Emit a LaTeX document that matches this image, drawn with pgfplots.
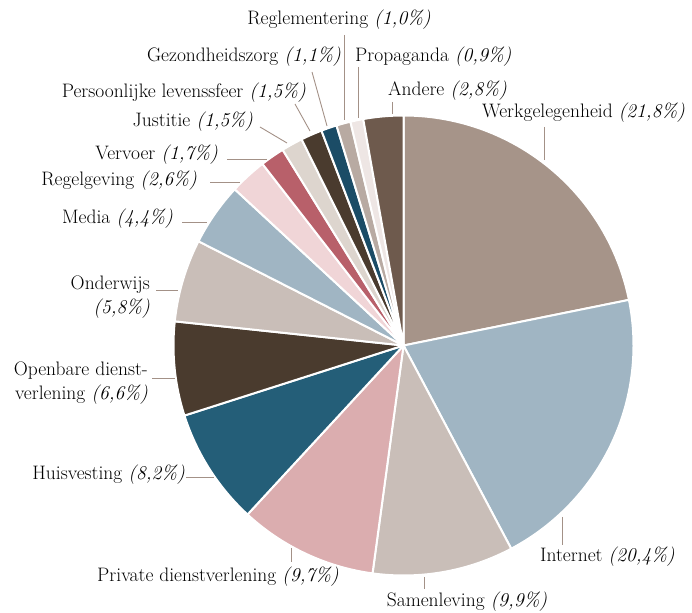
\documentclass[border=0pt]{standalone}
\usepackage{fontspec}
\usepackage{pgfplots}
\pgfplotsset{compat=1.18}
\definecolor{cWerk}{HTML}{A69489}
\definecolor{cInt}{HTML}{A0B5C3}
\definecolor{cSam}{HTML}{C9BEB8}
\definecolor{cPriv}{HTML}{DBADAF}
\definecolor{cHuis}{HTML}{245E78}
\definecolor{cOpen}{HTML}{4A3B2E}
\definecolor{cRegel}{HTML}{F0D5D7}
\definecolor{cVerv}{HTML}{B8606A}
\definecolor{cJust}{HTML}{DDD5CE}
\definecolor{cGez}{HTML}{1B4C66}
\definecolor{cRegl}{HTML}{B8AAA2}
\definecolor{cProp}{HTML}{EEE6E4}
\definecolor{cAnd}{HTML}{6E5A4D}
\definecolor{cLead}{HTML}{A39187}
% #1 colour, #2 cumulative start (%), #3 value (%)
\newcommand{\slice}[3]{%
  \addplot[draw=white, line width=2pt, line join=round, fill=#1,
    domain={90-360*(#2+#3)/99.9}:{90-360*(#2)/99.9}, samples=90]
    ({403.5+230*cos(x)},{266.5+230*sin(x)}) -- (axis cs:403.5,266.5) -- cycle;}
\newcommand{\lead}[4]{\draw[cLead, line width=0.9pt] (axis cs:#1,{612-#2}) -- (axis cs:#3,{612-#4});}
\tikzset{lbl/.style={font=\fontsize{19.5}{24}\selectfont, text=black, inner sep=0pt}}
\begin{document}
\fontsize{19.5}{24}\selectfont
\begin{tikzpicture}
\begin{axis}[
  x=1pt, y=1pt, xmin=0, xmax=692, ymin=0, ymax=612,
  hide axis, clip=false, scale only axis,
]
\slice{cWerk}{0}{21.8}
\slice{cInt}{21.8}{20.4}
\slice{cSam}{42.2}{9.9}
\slice{cPriv}{52.1}{9.7}
\slice{cHuis}{61.8}{8.2}
\slice{cOpen}{70.0}{6.6}
\slice{cSam}{76.6}{5.8}
\slice{cInt}{82.4}{4.4}
\slice{cRegel}{86.8}{2.6}
\slice{cVerv}{89.4}{1.7}
\slice{cJust}{91.1}{1.5}
\slice{cOpen}{92.6}{1.5}
\slice{cGez}{94.1}{1.1}
\slice{cRegl}{95.2}{1.0}
\slice{cProp}{96.2}{0.9}
\slice{cAnd}{97.1}{2.8}
% leader lines
\lead{344}{35}{344}{120}
\lead{312}{72}{327}{126}
\lead{358}{67}{358}{118}
\lead{392}{102}{392}{114}
\lead{544}{127}{544}{160}
\lead{295}{104}{310}{131}
\lead{260}{127}{287}{143}
\lead{227}{159}{267}{159}
\lead{210}{182}{240}{182}
\lead{182}{222}{207}{222}
\lead{156}{290}{178}{290}
\lead{152}{378}{175}{378}
\lead{186}{477}{214}{477}
\lead{291}{548}{291}{562}
\lead{424}{577}{424}{589}
\lead{562}{517}{562}{545}
% labels
\node[lbl, anchor=center] at (axis cs:339,{612-20}) {Reglementering \textit{(1,0\%)}};
\node[lbl, anchor=east] at (axis cs:341,{612-57}) {Gezondheidszorg \textit{(1,1\%)}};
\node[lbl, anchor=west] at (axis cs:355,{612-57}) {Propaganda \textit{(0,9\%)}};
\node[lbl, anchor=west] at (axis cs:388,{612-91}) {Andere \textit{(2,8\%)}};
\node[lbl, anchor=west] at (axis cs:482,{612-113}) {Werkgelegenheid \textit{(21,8\%)}};
\node[lbl, anchor=east] at (axis cs:306,{612-93}) {Persoonlijke levenssfeer \textit{(1,5\%)}};
\node[lbl, anchor=east] at (axis cs:253,{612-122}) {Justitie \textit{(1,5\%)}};
\node[lbl, anchor=east] at (axis cs:218,{612-155}) {Vervoer \textit{(1,7\%)}};
\node[lbl, anchor=east] at (axis cs:197,{612-181}) {Regelgeving \textit{(2,6\%)}};
\node[lbl, anchor=east] at (axis cs:173,{612-219}) {Media \textit{(4,4\%)}};
\node[lbl, anchor=east, align=right] at (axis cs:150,{612-297}) {Onderwijs\\\textit{(5,8\%)}};
\node[lbl, anchor=east, align=right] at (axis cs:148,{612-383}) {Openbare dienst-\\verlening \textit{(6,6\%)}};
\node[lbl, anchor=east] at (axis cs:185,{612-475}) {Huisvesting \textit{(8,2\%)}};
\node[lbl, anchor=center] at (axis cs:218,{612-577}) {Private dienstverlening \textit{(9,7\%)}};
\node[lbl, anchor=center] at (axis cs:467,{612-602}) {Samenleving \textit{(9,9\%)}};
\node[lbl, anchor=west] at (axis cs:540,{612-557}) {Internet \textit{(20,4\%)}};
\coordinate (bl) at (axis cs:0,0);
\coordinate (tr) at (axis cs:692,612);
\end{axis}
\pgfresetboundingbox
\useasboundingbox (bl) rectangle (tr);
\end{tikzpicture}
\end{document}
